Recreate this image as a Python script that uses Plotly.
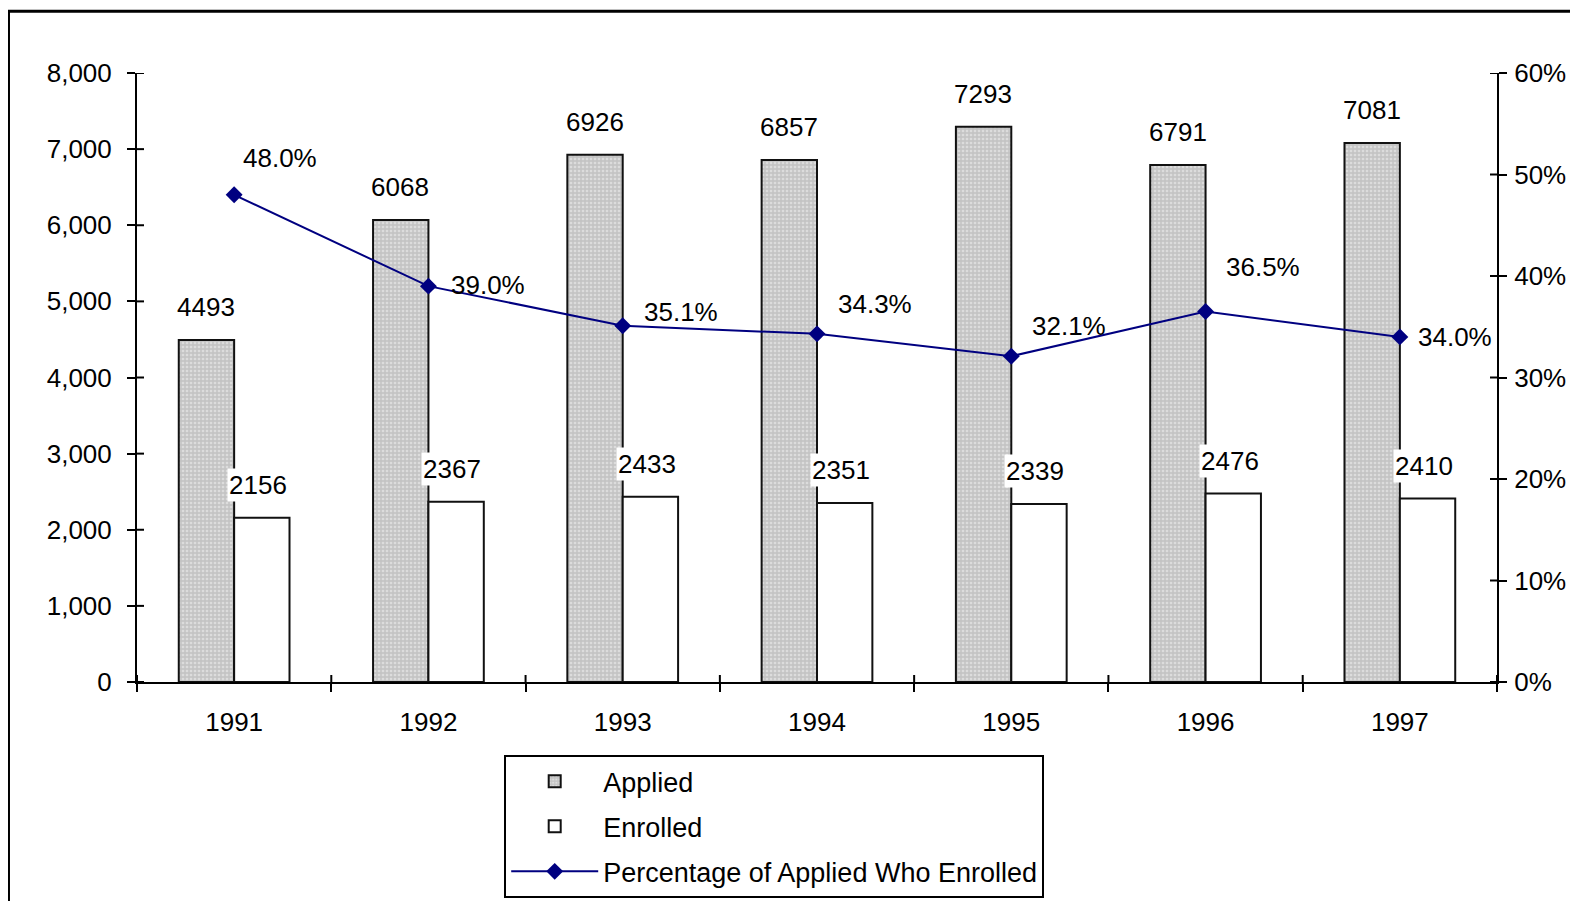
import plotly.graph_objects as go

years = ["1991", "1992", "1993", "1994", "1995", "1996", "1997"]
applied = [4493, 6068, 6926, 6857, 7293, 6791, 7081]
enrolled = [2156, 2367, 2433, 2351, 2339, 2476, 2410]
pct = [48.0, 39.0, 35.1, 34.3, 32.1, 36.5, 34.0]
pct_labels = ["48.0%", "39.0%", "35.1%", "34.3%", "32.1%", "36.5%", "34.0%"]
left_ticks = [0, 1000, 2000, 3000, 4000, 5000, 6000, 7000, 8000]
right_ticks = [0, 10, 20, 30, 40, 50, 60]
right_tick_labels = ["0%", "10%", "20%", "30%", "40%", "50%", "60%"]

# label offsets (style only), pixels
pct_dx = [46, 60, 58, 58, 58, 57, 55]
pct_dy = [37, 1, 14, 30, 30, 45, 0]

FONT = "Liberation Sans, Arial, sans-serif"
FS = 26
PLOT_W, PLOT_H = 1360, 609
TICK_IN = 7

fig = go.Figure()

fig.add_trace(go.Bar(
    x=years, y=applied, name="Applied", legendgroup="a",
    marker=dict(color="#c0c0c0", line=dict(color="#111111", width=2),
                pattern=dict(shape=".", bgcolor="#c4c4c4", fgcolor="#f4f4f4",
                             size=4, solidity=0.35)),
))
fig.add_trace(go.Bar(
    x=years, y=enrolled, name="Enrolled", legendgroup="b",
    marker=dict(color="white", line=dict(color="#111111", width=2)),
))
fig.add_trace(go.Scatter(
    x=years, y=pct, name="Percentage of Applied Who Enrolled", legendgroup="c",
    yaxis="y2", mode="lines+markers",
    line=dict(color="#000080", width=2),
    marker=dict(symbol="diamond", size=13, color="#000080"),
))

annotations = []
for i, yr in enumerate(years):
    annotations.append(dict(x=i, y=applied[i], xref="x", yref="y", text=str(applied[i]),
                            showarrow=False, xshift=-28, yshift=33, yanchor="middle",
                            font=dict(family=FONT, size=FS, color="black"), bgcolor="white", borderpad=1))
    annotations.append(dict(x=i, y=enrolled[i], xref="x", yref="y", text=str(enrolled[i]),
                            showarrow=False, xshift=24, yshift=33, yanchor="middle",
                            font=dict(family=FONT, size=FS, color="black"), bgcolor="white", borderpad=1))
    annotations.append(dict(x=i, y=pct[i], xref="x", yref="y2", text=pct_labels[i],
                            showarrow=False, xshift=pct_dx[i], yshift=pct_dy[i], yanchor="middle",
                            font=dict(family=FONT, size=FS, color="black")))

# inner halves of the cross-style tick marks
tick_line = dict(color="black", width=2)
shapes = [dict(type="rect", xref="paper", yref="paper",
               x0=-0.0945, x1=1.3, y0=-0.6, y1=1.1013,
               line=dict(color="black", width=3), layer="below")]
for v in left_ticks:
    shapes.append(dict(type="line", xref="paper", yref="y", x0=0, x1=TICK_IN / PLOT_W,
                       y0=v, y1=v, line=tick_line))
for v in right_ticks:
    shapes.append(dict(type="line", xref="paper", yref="y2", x0=1 - TICK_IN / PLOT_W, x1=1,
                       y0=v, y1=v, line=tick_line))
for k in range(len(years) + 1):
    shapes.append(dict(type="line", xref="x", yref="paper", x0=k - 0.5, x1=k - 0.5,
                       y0=0, y1=TICK_IN / PLOT_H, line=tick_line))

axis_common = dict(showline=True, linecolor="black", linewidth=2, showgrid=False,
                   zeroline=False, tickcolor="black", tickwidth=2,
                   tickfont=dict(family=FONT, size=FS, color="black"))

fig.update_layout(
    width=1570, height=893,
    margin=dict(l=129, r=81, t=65, b=219, autoexpand=False),
    paper_bgcolor="white", plot_bgcolor="white",
    barmode="group", bargap=0.43, bargroupgap=0,
    font=dict(family=FONT, size=FS, color="black"),
    xaxis=dict(**axis_common, type="category", tickson="boundaries", ticks="outside",
               ticklen=8, range=[-0.5, 6.5], ticklabelstandoff=16),
    yaxis=dict(**axis_common, range=[0, 8000], tickvals=left_ticks, tickformat=",d",
               ticks="outside", ticklen=8, ticklabelstandoff=10),
    yaxis2=dict(**axis_common, overlaying="y", side="right", anchor="x", range=[0, 60],
                tickvals=right_ticks, ticktext=right_tick_labels, ticks="outside", ticklen=8,
                ticklabelstandoff=2),
    legend=dict(x=0.27, y=-0.12, xanchor="left", yanchor="top",
                bordercolor="black", borderwidth=2, bgcolor="white",
                font=dict(family=FONT, size=27, color="black"),
                tracegroupgap=7, itemwidth=87),
    annotations=annotations,
    shapes=shapes,
    showlegend=True,
)

fig.write_html("out.html")
